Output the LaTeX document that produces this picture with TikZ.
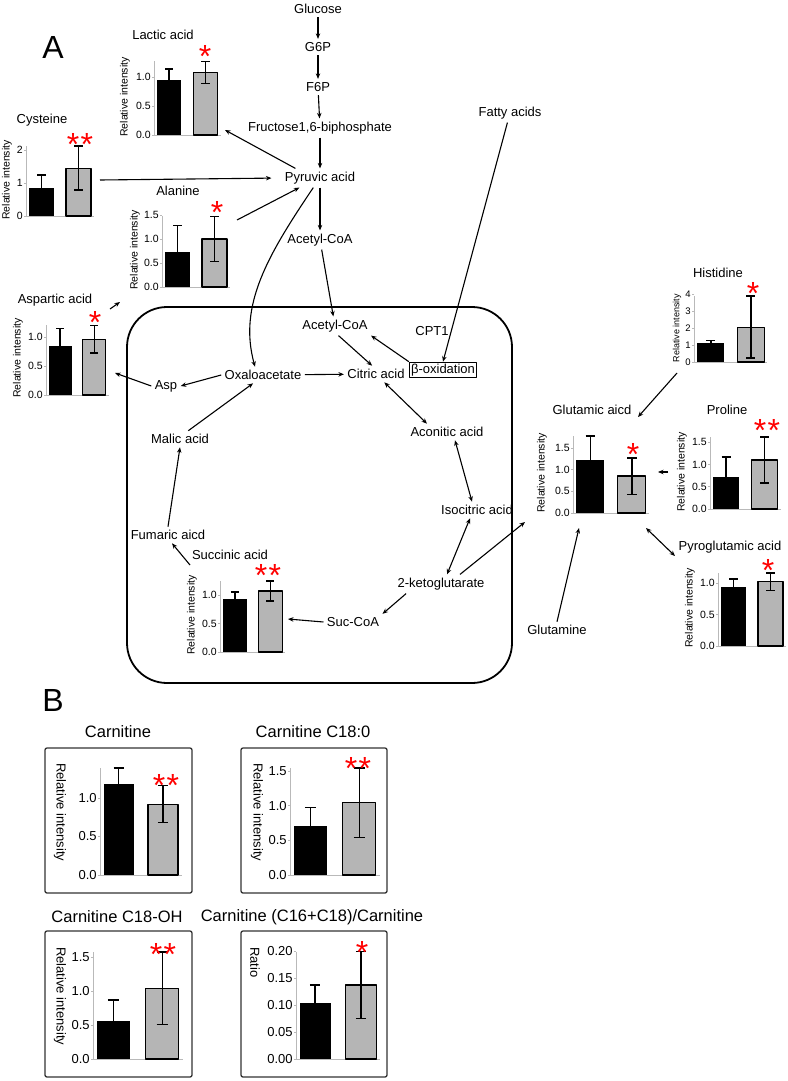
\documentclass[tikz,border=0pt]{standalone}
\usepackage{fontspec}
\setmainfont{Liberation Sans}
\usetikzlibrary{arrows.meta}

\tikzset{
  lbl/.style={font=\fontsize{13}{15}\selectfont},
  ttlB/.style={font=\fontsize{16.5}{18}\selectfont},
  ylab/.style={font=\fontsize{10.5}{12}\selectfont, rotate=90, inner sep=0pt},
  ticklabel/.style={font=\fontsize{10.5}{12}\selectfont, left, inner sep=1pt},
  axisline/.style={gray!55, line width=0.6pt},
  errbar/.style={line width=1.6pt},
  sig/.style={text=red, font=\fontsize{32}{32}\selectfont, anchor=base, inner sep=0pt},
  panel/.style={font=\fontsize{32}{34}\selectfont},
  rx/.style={->, line width=1.1pt},
  rxx/.style={<->, line width=1.1pt},
  frameB/.style={line width=1.3pt, black!80, rounded corners=2pt},
}

\newcommand{\barchart}[9]{%
  % #1,#2 foot of the axis, #3 pt per unit, #4 bar width
  % #5/#6 black bar and error, #7/#8 grey bar and error, #9 ticks
  \begin{scope}[shift={(#1,#2)}, y=#3pt]
    \pgfmathsetmacro\bA{0.12*#4}\pgfmathsetmacro\bB{1.12*#4}\pgfmathsetmacro\bM{0.62*#4}
    \pgfmathsetmacro\gA{1.6*#4}\pgfmathsetmacro\gB{2.6*#4}\pgfmathsetmacro\gM{2.1*#4}
    \pgfmathsetmacro\cp{0.17*#4}
    \pgfmathsetmacro\ytop{max(#5+#6,#7+#8)}
    \draw[axisline] (0,0) -- (0,\ytop) (0,0) -- (2.72*#4,0);
    \foreach \v/\lab in {#9} \draw[axisline] (0,\v) -- (-2,\v) node[ticklabel, text=black]{\lab};
    \fill (\bA,0) rectangle (\bB,#5);
    \draw[errbar] (\bM,#5-#6) -- (\bM,#5+#6) (\bM-\cp,#5+#6) -- (\bM+\cp,#5+#6);
    \filldraw[fill=gray!58, line width=1.3pt] (\gA,0) rectangle (\gB,#7);
    \draw[errbar] (\gM,#7-#8) -- (\gM,#7+#8) (\gM-\cp,#7+#8) -- (\gM+\cp,#7+#8)
      (\gM-\cp,#7-#8) -- (\gM+\cp,#7-#8);
  \end{scope}}

\begin{document}
\begin{tikzpicture}[x=1pt, y=-1pt, >={Stealth[length=5.5pt,width=4.5pt]}, line join=round]
\useasboundingbox (0,0) rectangle (787,1081);

\node[panel] (pA) at (53,47) {A};

% glycolysis
\node[lbl] (glc) at (318,9) {Glucose};
\node[lbl] (g6p) at (318,47) {G6P};
\node[lbl] (f6p) at (318,87) {F6P};
\node[lbl] (fbp) at (320,128) {Fructose1,6-biphosphate};
\node[lbl] (pyr) at (320,178) {Pyruvic acid};
\node[lbl] (acoa) at (320,240) {Acetyl-CoA};
\node[lbl] (fa) at (510,113) {Fatty acids};

% TCA cycle
\draw[line width=1.8pt, rounded corners=40pt] (127,307) rectangle (512,683);
\node[lbl] (acoa2) at (335,326) {Acetyl-CoA};
\node[lbl] (cpt) at (432,331) {CPT1};
\node[lbl, draw, line width=1.5pt, inner sep=1.5pt] (box) at (443,370) {β-oxidation};
\node[lbl] (oaa) at (263,375) {Oxaloacetate};
\node[lbl] (cit) at (376,374) {Citric acid};
\node[lbl] (asp) at (166,386) {Asp};
\node[lbl] (mal) at (180,439) {Malic acid};
\node[lbl] (aco) at (447,432) {Aconitic acid};
\node[lbl] (iso) at (477,510) {Isocitric acid};
\node[lbl] (akg) at (441,584) {2-ketoglutarate};
\node[lbl] (suc) at (353,622) {Suc-CoA};
\node[lbl] (fum) at (168,535) {Fumaric aicd};
\node[lbl] (gln) at (557,630) {Glutamine};

% chart titles
\node[lbl] (tlac) at (163,35) {Lactic acid};
\node[lbl] (tcys) at (42,120) {Cysteine};
\node[lbl] (tala) at (178,191) {Alanine};
\node[lbl] (tasp) at (55,300) {Aspartic acid};
\node[lbl] (tsuc) at (230,555) {Succinic acid};
\node[lbl] (this) at (718,273) {Histidine};
\node[lbl] (tglu) at (592,410) {Glutamic aicd};
\node[lbl] (tpro) at (727,410) {Proline};
\node[lbl] (tpyro) at (730,547) {Pyroglutamic acid};

% bar charts of panel A
\barchart{154}{135}{58}{24.5}{0.95}{0.19}{1.08}{0.19}{0/0.0,0.5/0.5,1/1.0}
\barchart{26}{216}{33}{25}{0.85}{0.39}{1.45}{0.67}{0/0,1/1,2/2}
\barchart{162}{287}{48}{25}{0.72}{0.56}{1.0}{0.47}{0/0.0,0.5/0.5,1/1.0,1.5/1.5}
\barchart{46}{395}{58}{23}{0.84}{0.31}{0.96}{0.24}{0/0.0,0.5/0.5,1/1.0}
\barchart{220}{652}{57}{24}{0.93}{0.12}{1.07}{0.18}{0/0.0,0.5/0.5,1/1.0}
\begin{scope}[ticklabel/.append style={font=\fontsize{9.5}{11}\selectfont}]
\barchart{694}{362}{17}{27}{1.1}{0.17}{2.05}{1.82}{0/0,1/1,2/2,3/3,4/4}
\end{scope}
\barchart{573}{513}{43.4}{28}{1.22}{0.55}{0.85}{0.42}{0/0.0,0.5/0.5,1/1.0,1.5/1.5}
\barchart{710}{509}{44.6}{26}{0.72}{0.45}{1.1}{0.52}{0/0.0,0.5/0.5,1/1.0,1.5/1.5}
\barchart{718}{646}{63}{25}{0.94}{0.12}{1.02}{0.14}{0/0.0,0.5/0.5,1/1.0}

\node[ylab] (ylac) at (125,97) {Relative intensity};
\node[ylab] (ycys) at (7,180) {Relative intensity};
\node[ylab] (yala) at (135,250) {Relative intensity};
\node[ylab] (yasp) at (18,358) {Relative intensity};
\node[ylab] (ysuc) at (192,615) {Relative intensity};
\node[ylab, font=\fontsize{9}{10}\selectfont] (yhis) at (677,328) {Relative intensity};
\node[ylab] (yglu) at (542,473) {Relative intensity};
\node[ylab] (ypro) at (682,472) {Relative intensity};
\node[ylab] (ypyro) at (690,608) {Relative intensity};

\node[sig] (slac) at (205,67) {*};
\node[sig] (scys) at (80,155) {*\kern1.5pt*};
\node[sig] (sala) at (217,223) {*};
\node[sig] (sasp) at (95,333) {*};
\node[sig] (ssuc) at (268,586) {*\kern1.5pt*};
\node[sig] (shis) at (753,304) {*};
\node[sig] (sglu) at (633,465) {*};
\node[sig] (spro) at (767,441) {*\kern1.5pt*};
\node[sig] (spyro) at (768,581) {*};

% arrow ends at the charts
\coordinate (lacT) at (225,130);
\coordinate (cysS) at (100,180);
\coordinate (alaS) at (237,220);
\coordinate (aspA) at (115,373);
\coordinate (aspS) at (110,309);
\coordinate (aspE) at (120,302);
\coordinate (sucT) at (288,619);
\coordinate (sucS) at (190,565);
\coordinate (gluT) at (525,522);
\coordinate (gluN) at (638,417);
\coordinate (hisS) at (677,373);
\coordinate (proS) at (668,472);
\coordinate (gluR) at (658,472);
\coordinate (gluB) at (579,528);
\coordinate (gluP) at (646,528);
\coordinate (pyroT) at (675,556);

\draw[rx] (glc) -- (g6p);
\draw[rx] (g6p) -- (f6p);
\draw[rx] (f6p) -- (fbp);
\draw[rx] (fbp) -- (pyr);
\draw[rx] (pyr) -- (acoa);
\draw[rx] ([xshift=14pt]pyr.north west) -- (lacT);
\draw[rx, shorten >=10pt] (cysS) -- (pyr.west);
\draw[rx] (alaS) -- ([xshift=18pt]pyr.south west);
\draw[rx] (pyr.235) .. controls (268,255) and (238,305) .. ([xshift=-8pt]oaa.north);
\draw[rx] (acoa) -- (acoa2);
\draw[rx] (fa) -- (box.north);
\draw[rx] (box.north west) -- (acoa2.south east);
\draw[rx] (acoa2.-70) -- (cit.115);
\draw[rx] (oaa) -- (cit);
\draw[rx] (oaa.west) -- (asp.east);
\draw[rx] (asp.west) -- (aspA);
\draw[rx] (aspS) -- (aspE);
\draw[rx] (mal.45) -- (oaa.220);
\draw[rx] (fum.north) -- (mal.south);
\draw[rx] (sucS) -- ([xshift=4pt]fum.south);
\draw[rx] ([xshift=12pt]akg.south west) -- (suc.north east);
\draw[rx] (suc.west) -- (sucT);
\draw[rxx] (cit.-45) -- ([xshift=-20pt]aco.north);
\draw[rxx] ([xshift=8pt]aco.south) -- ([xshift=-5pt]iso.north);
\draw[rxx] ([xshift=-7pt]iso.south) -- ([xshift=6pt]akg.north);
\draw[rx] ([xshift=19pt]akg.north) -- (gluT);
\draw[rx] (gln.north) -- (gluB);
\draw[rx] (hisS) -- (gluN);
\draw[rx] (proS) -- (gluR);
\draw[rxx] (gluP) -- (pyroT);

% panel B
\node[panel] (pB) at (53,700) {B};
\node[ttlB] (tcar) at (118,732) {Carnitine};
\node[ttlB] (tc180) at (313,732) {Carnitine C18:0};
\node[ttlB] (tc18oh) at (117,917) {Carnitine C18-OH};
\node[ttlB] (tratio) at (312,917) {Carnitine (C16+C18)/Carnitine};
\draw[frameB] (45,748) rectangle (192,893);
\draw[frameB] (241,748) rectangle (387,893);
\draw[frameB] (45,931) rectangle (192,1077);
\draw[frameB] (241,931) rectangle (387,1077);
\begin{scope}[ticklabel/.append style={font=\fontsize{13}{15}\selectfont},
  ylab/.append style={font=\fontsize{13}{15}\selectfont, rotate=-180, anchor=west}]
\barchart{100}{875}{77}{30}{1.18}{0.21}{0.92}{0.24}{0/0.0,0.5/0.5,1/1.0}
\barchart{290}{875}{69.4}{33}{0.7}{0.27}{1.04}{0.5}{0/0.0,0.5/0.5,1/1.0,1.5/1.5}
\barchart{93}{1059}{68}{33}{0.56}{0.31}{1.04}{0.53}{0/0.0,0.5/0.5,1/1.0,1.5/1.5}
\barchart{296}{1059}{540}{31}{0.104}{0.033}{0.137}{0.062}{0/0.00,0.05/0.05,0.1/0.10,0.15/0.15,0.2/0.20}
\node[ylab] (ycar) at (60,763) {Relative intensity};
\node[ylab] (yc180) at (257,763) {Relative intensity};
\node[ylab] (yc18oh) at (60,947) {Relative intensity};
\node[ylab] (yratio) at (255,947) {Ratio};
\end{scope}
\node[sig] (scar) at (166,796) {*\kern1.5pt*};
\node[sig] (sc180) at (358,779) {*\kern1.5pt*};
\node[sig] (sc18oh) at (163,965) {*\kern1.5pt*};
\node[sig] (sratio) at (362,963) {*};
\end{tikzpicture}
\end{document}
